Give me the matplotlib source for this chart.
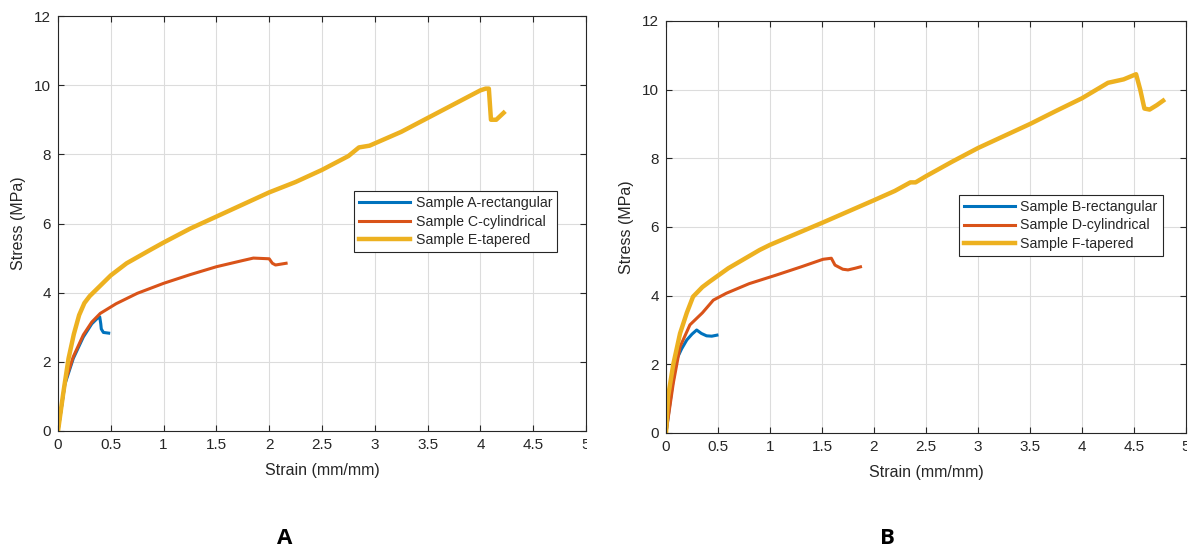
import matplotlib
matplotlib.use("Agg")
import matplotlib.pyplot as plt
from matplotlib.transforms import Bbox

plt.rcParams['font.family'] = ['Liberation Sans', 'DejaVu Sans']

# -------------------------------
# Data
# -------------------------------
# Panel A
a_rect_x = [0, 0.065, 0.145, 0.24, 0.32, 0.37, 0.395, 0.405, 0.41, 0.43, 0.48]
a_rect_y = [0, 1.35, 2.1, 2.72, 3.1, 3.25, 3.3, 3.1, 2.95, 2.85, 2.83]

a_cyl_x = [0, 0.065, 0.145, 0.24, 0.32, 0.4, 0.55, 0.75, 1.0, 1.25, 1.5, 1.75,
           1.85, 2.0, 2.03, 2.06, 2.1, 2.16]
a_cyl_y = [0, 1.4, 2.15, 2.78, 3.15, 3.4, 3.68, 3.98, 4.27, 4.52, 4.75, 4.93,
           5.0, 4.98, 4.85, 4.8, 4.82, 4.85]

a_tap_x = [0, 0.05, 0.1, 0.15, 0.2, 0.25, 0.3, 0.4, 0.5, 0.65, 0.87, 1.0, 1.25,
           1.5, 1.75, 2.0, 2.25, 2.5, 2.75, 2.85, 2.95, 3.25, 3.5, 3.75, 4.0,
           4.05, 4.08, 4.1, 4.15, 4.22]
a_tap_y = [0, 1.1, 2.1, 2.8, 3.35, 3.7, 3.9, 4.2, 4.5, 4.85, 5.23, 5.45, 5.85,
           6.2, 6.55, 6.9, 7.2, 7.55, 7.95, 8.2, 8.25, 8.65, 9.05, 9.45, 9.85,
           9.9, 9.9, 9.0, 9.0, 9.2]

# Panel B
b_rect_x = [0, 0.055, 0.1, 0.15, 0.2, 0.25, 0.295, 0.34, 0.39, 0.44, 0.49]
b_rect_y = [0, 1.25, 2.13, 2.45, 2.71, 2.88, 3.0, 2.9, 2.83, 2.82, 2.85]

b_cyl_x = [0, 0.07, 0.135, 0.23, 0.35, 0.455, 0.58, 0.8, 1.06, 1.3, 1.51, 1.59,
           1.625, 1.7, 1.75, 1.82, 1.87]
b_cyl_y = [0, 1.45, 2.51, 3.15, 3.5, 3.87, 4.07, 4.35, 4.6, 4.84, 5.06, 5.09,
           4.89, 4.77, 4.75, 4.8, 4.84]

b_tap_x = [0, 0.02, 0.07, 0.135, 0.2, 0.26, 0.35, 0.42, 0.6, 0.9, 1.0, 1.25,
           1.5, 1.75, 2.0, 2.2, 2.35, 2.4, 2.5, 2.75, 3.0, 3.25, 3.5, 3.75,
           4.0, 4.25, 4.4, 4.52, 4.56, 4.6, 4.65, 4.72, 4.78]
b_tap_y = [0, 1.06, 2.0, 2.9, 3.5, 3.97, 4.25, 4.41, 4.8, 5.33, 5.48, 5.8,
           6.12, 6.45, 6.78, 7.05, 7.3, 7.3, 7.48, 7.9, 8.3, 8.65, 9.0, 9.38,
           9.75, 10.2, 10.3, 10.45, 10.0, 9.45, 9.42, 9.55, 9.68]

a_labels = ["Sample A-rectangular", "Sample C-cylindrical", "Sample E-tapered"]
b_labels = ["Sample B-rectangular", "Sample D-cylindrical", "Sample F-tapered"]

x_ticks = [0, 0.5, 1, 1.5, 2, 2.5, 3, 3.5, 4, 4.5, 5]
x_tick_labels = ["0", "0.5", "1", "1.5", "2", "2.5", "3", "3.5", "4", "4.5", "5"]
y_ticks = [0, 2, 4, 6, 8, 10, 12]

colors = ["#0072BD", "#D95319", "#EDB120"]
widths = [2.2, 2.2, 3.2]
text_col = "#262626"

W, H = 1191, 550
fig = plt.figure(figsize=(W / 100, H / 100), dpi=100)


def px_axes(left, top, right, bottom):
    return fig.add_axes([left / W, 1 - bottom / H, (right - left) / W, (bottom - top) / H])


def style(ax, right_px):
    ax.set_xlim(0, 5)
    ax.set_ylim(0, 12)
    ax.set_xticks(x_ticks)
    ax.set_xticklabels(x_tick_labels)
    ax.set_yticks(y_ticks)
    ax.grid(True, color="#dcdcdc", lw=0.8)
    ax.set_axisbelow(True)
    ax.tick_params(direction="in", top=True, right=True, length=4,
                   labelsize=11, colors=text_col, pad=5)
    for s in ax.spines.values():
        s.set_color(text_col)
        s.set_linewidth(0.8)
    ax.set_xlabel("Strain (mm/mm)", fontsize=11.5, color=text_col, labelpad=8)
    ax.set_ylabel("Stress (MPa)", fontsize=11.5, color=text_col, labelpad=6)
    # the source images are cropped at the right spine, so the "5" is cut
    clip = Bbox([[0, 0], [right_px + 1, H]])
    for lab in ax.get_xticklabels():
        lab.set_clip_box(clip)
        lab.set_clip_on(True)


def panel(ax, xs, ys, labels, anchor):
    for x, y, lab, c, w in zip(xs, ys, labels, colors, widths):
        ax.plot(x, y, color=c, lw=w, label=lab, solid_joinstyle="round")
    leg = ax.legend(loc="upper left", bbox_to_anchor=anchor, borderaxespad=0,
                    fontsize=10.2, handlelength=3.6, labelspacing=0.33,
                    handletextpad=0.4, borderpad=0.35, fancybox=False,
                    framealpha=1)
    leg.get_frame().set_edgecolor(text_col)
    leg.get_frame().set_linewidth(0.8)
    for t in leg.get_texts():
        t.set_color(text_col)


# -------------------------------
# Panel A
# -------------------------------
axA = px_axes(58, 16, 586, 431)
panel(axA, [a_rect_x, a_cyl_x, a_tap_x], [a_rect_y, a_cyl_y, a_tap_y], a_labels, (0.561, 0.578))
style(axA, 586)

# -------------------------------
# Panel B
# -------------------------------
axB = px_axes(666, 21, 1186, 433)
panel(axB, [b_rect_x, b_cyl_x, b_tap_x], [b_rect_y, b_cyl_y, b_tap_y], b_labels, (0.563, 0.578))
style(axB, 1186)

fig.text(285 / W, 1 - 538 / H, "A", fontsize=16, fontweight="bold",
         family=["Open Sans", "DejaVu Sans"], ha="center", va="center")
fig.text(887 / W, 1 - 538 / H, "B", fontsize=16, fontweight="bold",
         family=["Open Sans", "DejaVu Sans"], ha="center", va="center")

fig.savefig("out.png", dpi=100)
